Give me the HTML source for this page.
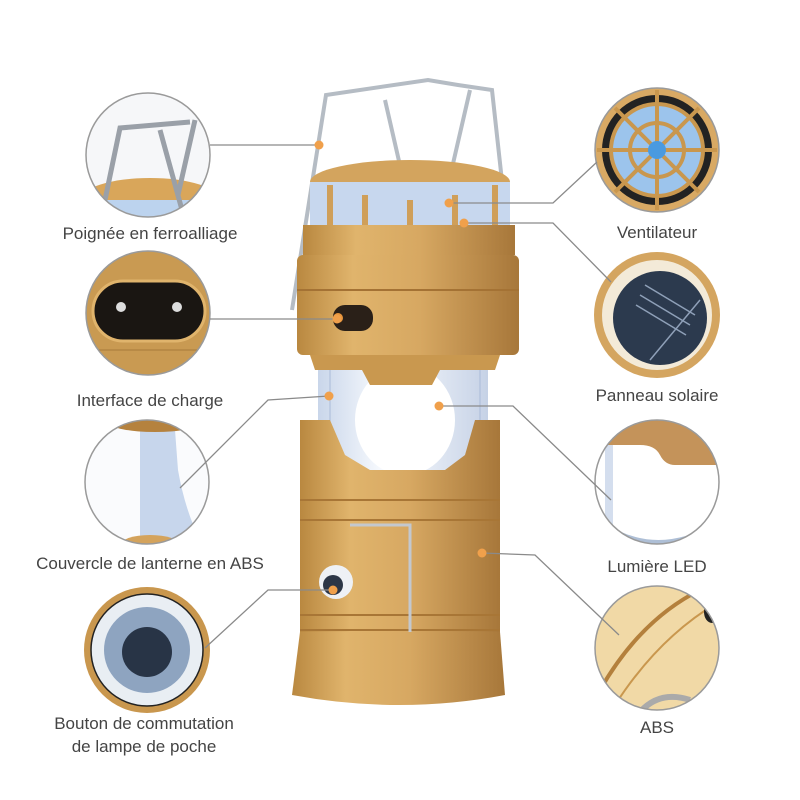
<!DOCTYPE html>
<html><head><meta charset="utf-8"><style>
html,body{margin:0;padding:0;background:#fff;width:800px;height:800px;overflow:hidden}
text{font-family:"Liberation Sans",sans-serif;font-size:17px;fill:#444}
</style></head><body>
<svg width="800" height="800" viewBox="0 0 800 800" xmlns="http://www.w3.org/2000/svg">
<defs>
<linearGradient id="gold" x1="0" x2="1" y1="0" y2="0">
<stop offset="0" stop-color="#b98840"/><stop offset="0.25" stop-color="#e0b46c"/><stop offset="0.55" stop-color="#d7a862"/><stop offset="1" stop-color="#a7773a"/></linearGradient>
<linearGradient id="glass" x1="0" x2="1"><stop offset="0" stop-color="#c9d6ea"/><stop offset="0.4" stop-color="#fafcff"/><stop offset="1" stop-color="#c6d2e6"/></linearGradient>
<clipPath id="c1"><circle cx="148" cy="155" r="62"/></clipPath>
<clipPath id="c2"><circle cx="148" cy="313" r="62"/></clipPath>
<clipPath id="c3"><circle cx="147" cy="482" r="62"/></clipPath>
<clipPath id="c4"><circle cx="147" cy="650" r="62"/></clipPath>
<clipPath id="r1"><circle cx="657" cy="150" r="62"/></clipPath>
<clipPath id="r2"><circle cx="657" cy="315" r="62"/></clipPath>
<clipPath id="r3"><circle cx="657" cy="482" r="62"/></clipPath>
<clipPath id="r4"><circle cx="657" cy="648" r="62"/></clipPath>
</defs>

<!-- LEFT circles -->
<g clip-path="url(#c1)">
<rect x="80" y="90" width="140" height="130" fill="#f6f7f9"/>
<ellipse cx="150" cy="200" rx="70" ry="22" fill="#d9a65a"/>
<rect x="90" y="200" width="120" height="25" fill="#bcd3ee"/>
<path d="M105 200 L120 128 L190 122 M160 130 L182 210 M195 120 L178 195" stroke="#9aa0a8" stroke-width="5" fill="none"/>
</g>
<circle cx="148" cy="155" r="62" fill="none" stroke="#9a9a9a" stroke-width="1.5"/>

<g clip-path="url(#c2)">
<rect x="80" y="250" width="140" height="130" fill="#c99a52"/>
<rect x="93" y="281" width="112" height="60" rx="30" fill="#1a1612" stroke="#e0b46c" stroke-width="3"/>
<circle cx="121" cy="307" r="5" fill="#ddd"/><circle cx="177" cy="307" r="5" fill="#ddd"/>
<line x1="86" y1="350" x2="215" y2="350" stroke="#a67a3a"/>
</g>
<circle cx="148" cy="313" r="62" fill="none" stroke="#9a9a9a" stroke-width="1.5"/>

<g clip-path="url(#c3)">
<rect x="80" y="415" width="140" height="135" fill="#fafbfd"/>
<path d="M140 430 L175 430 L178 470 Q185 510 200 540 L140 545 Z" fill="#c7d6ec"/>
<ellipse cx="155" cy="423" rx="45" ry="9" fill="#b5823e"/>
<ellipse cx="150" cy="545" rx="30" ry="10" fill="#d4a35c"/>
</g>
<circle cx="147" cy="482" r="62" fill="none" stroke="#9a9a9a" stroke-width="1.5"/>

<circle cx="147" cy="650" r="63" fill="#c9974e"/>
<circle cx="147" cy="650" r="56" fill="#e9eef3" stroke="#222" stroke-width="1.5"/>
<circle cx="147" cy="650" r="43" fill="#8ea4c0"/>
<circle cx="147" cy="652" r="25" fill="#283446"/>

<!-- RIGHT circles -->
<g clip-path="url(#r1)">
<rect x="590" y="85" width="140" height="130" fill="#d8a964"/>
<circle cx="657" cy="150" r="55" fill="#222"/>
<circle cx="657" cy="150" r="46" fill="#9cc4ec"/>
<circle cx="657" cy="150" r="27" fill="none" stroke="#c9974e" stroke-width="4"/>
<circle cx="657" cy="150" r="46" fill="none" stroke="#c9974e" stroke-width="4"/>
<g stroke="#c9974e" stroke-width="4">
<line x1="657" y1="90" x2="657" y2="210"/><line x1="597" y1="150" x2="717" y2="150"/>
<line x1="615" y1="108" x2="699" y2="192"/><line x1="699" y1="108" x2="615" y2="192"/></g>
<circle cx="657" cy="150" r="9" fill="#4a9ae0"/>
</g>
<circle cx="657" cy="150" r="62" fill="none" stroke="#9a9a9a" stroke-width="1.5"/>

<circle cx="657" cy="315" r="63" fill="#d4a560"/>
<circle cx="657" cy="315" r="55" fill="#f3ead8"/>
<circle cx="660" cy="318" r="47" fill="#2c3a4e"/>
<g stroke="#8fa0b8" stroke-width="1.5"><line x1="640" y1="295" x2="690" y2="325"/><line x1="636" y1="305" x2="686" y2="335"/><line x1="645" y1="285" x2="695" y2="315"/><line x1="650" y1="360" x2="700" y2="300"/></g>

<g clip-path="url(#r3)">
<rect x="590" y="415" width="140" height="135" fill="#fff"/>
<path d="M590 415 L730 415 L730 465 L675 465 Q665 465 660 455 Q655 445 640 445 L590 445 Z" fill="#c4935a"/>
<rect x="605" y="445" width="8" height="100" fill="#d4deee"/>
<path d="M600 520 Q657 560 720 520 L720 550 L600 550 Z" fill="#aebfd6"/>
</g>
<circle cx="657" cy="482" r="62" fill="none" stroke="#9a9a9a" stroke-width="1.5"/>

<g clip-path="url(#r4)">
<rect x="590" y="580" width="140" height="140" fill="#f1d9a6"/>
<path d="M600 690 Q640 620 700 590" stroke="#b4803c" stroke-width="4" fill="none"/>
<path d="M615 705 Q660 635 722 600" stroke="#c9974e" stroke-width="2" fill="none"/>
<ellipse cx="712" cy="612" rx="8" ry="11" fill="#222"/>
<path d="M640 712 Q660 690 690 700" stroke="#aaa" stroke-width="6" fill="none"/>
</g>
<circle cx="657" cy="648" r="62" fill="none" stroke="#9a9a9a" stroke-width="1.5"/>

<!-- LANTERN -->
<!-- handle -->
<path d="M292 310 L326 95 L428 80 L458 85 L492 90 L515 300" stroke="#b5bcc4" stroke-width="4" fill="none"/>
<path d="M385 100 L440 340 M470 90 L440 220" stroke="#b5bcc4" stroke-width="4" fill="none"/>
<!-- glass tube -->
<rect x="318" y="355" width="170" height="120" fill="url(#glass)"/>
<ellipse cx="405" cy="420" rx="50" ry="55" fill="#fff"/>
<line x1="330" y1="360" x2="330" y2="470" stroke="#aabbd8"/>
<line x1="480" y1="360" x2="480" y2="470" stroke="#aabbd8"/>
<!-- top cage -->
<ellipse cx="410" cy="182" rx="100" ry="22" fill="#d3a45e"/>
<rect x="310" y="182" width="200" height="50" fill="#c7d7ee"/>
<g stroke="#cf9f5a" stroke-width="6"><line x1="330" y1="185" x2="330" y2="235"/><line x1="365" y1="195" x2="365" y2="240"/><line x1="410" y1="200" x2="410" y2="242"/><line x1="455" y1="195" x2="455" y2="240"/><line x1="495" y1="185" x2="495" y2="235"/></g>
<rect x="303" y="225" width="212" height="30" fill="url(#gold)"/>
<!-- gold band -->
<rect x="297" y="255" width="222" height="100" rx="6" fill="url(#gold)"/>
<line x1="297" y1="290" x2="519" y2="290" stroke="#a47234" stroke-width="2"/>
<path d="M310 355 L500 355 L495 370 L440 370 L432 385 L370 385 L362 370 L315 370 Z" fill="#c9984f"/>
<rect x="333" y="305" width="40" height="26" rx="12" fill="#2a2018"/>
<circle cx="338" cy="318" r="5" fill="#e8963c"/>
<!-- body -->
<path d="M300 420 L330 420 L345 455 L370 470 L445 470 L465 455 L475 420 L500 420 L500 640 L300 640 Z" fill="url(#gold)"/>
<g stroke="#a87636" stroke-width="2" fill="none"><line x1="300" y1="500" x2="500" y2="500"/><line x1="300" y1="520" x2="500" y2="520"/><line x1="300" y1="615" x2="500" y2="615"/><line x1="300" y1="630" x2="500" y2="630"/></g>
<path d="M350 525 L410 525 L410 655 L350 655" stroke="#c3c8cf" stroke-width="3" fill="none"/>
<circle cx="336" cy="582" r="17" fill="#eef1f5"/>
<circle cx="333" cy="585" r="10" fill="#2c3646"/>
<!-- base -->
<path d="M300 632 L500 632 L505 695 Q400 715 292 695 Z" fill="url(#gold)"/>

<!-- connectors -->
<g stroke="#8a8a8a" stroke-width="1.3" fill="none">
<line x1="210" y1="145" x2="319" y2="145"/>
<polyline points="449,203 553,203 597,162"/>
<polyline points="464,223 553,223 611,282"/>
<line x1="210" y1="319" x2="337" y2="319"/>
<polyline points="329,396 268,400 180,488"/>
<polyline points="439,406 513,406 611,500"/>
<polyline points="482,553 535,555 619,635"/>
<polyline points="333,590 268,590 205,648"/>
</g>
<g fill="#f0a04b">
<circle cx="319" cy="145" r="4.5"/><circle cx="449" cy="203" r="4.5"/><circle cx="464" cy="223" r="4.5"/>
<circle cx="337" cy="319" r="4.5"/><circle cx="329" cy="396" r="4.5"/><circle cx="439" cy="406" r="4.5"/>
<circle cx="482" cy="553" r="4.5"/><circle cx="333" cy="590" r="4.5"/>
</g>

<!-- labels -->
<text x="150" y="239" text-anchor="middle">Poignée en ferroalliage</text>
<text x="150" y="406" text-anchor="middle">Interface de charge</text>
<text x="150" y="569" text-anchor="middle">Couvercle de lanterne en ABS</text>
<text x="144" y="729" text-anchor="middle">Bouton de commutation</text>
<text x="144" y="752" text-anchor="middle">de lampe de poche</text>
<text x="657" y="238" text-anchor="middle">Ventilateur</text>
<text x="657" y="401" text-anchor="middle">Panneau solaire</text>
<text x="657" y="572" text-anchor="middle">Lumière LED</text>
<text x="657" y="733" text-anchor="middle">ABS</text>
</svg>
</body></html>
